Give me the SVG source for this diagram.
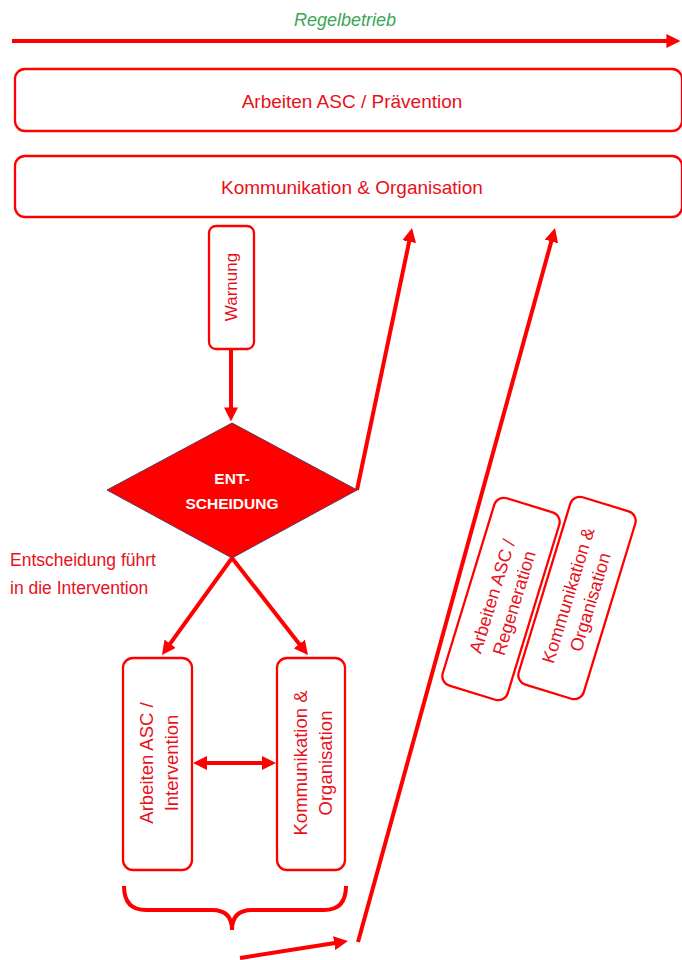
<svg xmlns="http://www.w3.org/2000/svg" width="682" height="960" viewBox="0 0 682 960">
<defs>
<style>
.box{fill:#fff;stroke:#ff0000;stroke-width:2.3}
.ln{fill:none;stroke:#ff0000;stroke-width:4}
.t{font-family:"Liberation Sans",Arial,sans-serif;fill:#e8101a;text-anchor:middle}
</style>
<marker id="ah" viewBox="0 0 10 10" refX="4" refY="5" markerWidth="14" markerHeight="14" markerUnits="userSpaceOnUse" orient="auto-start-reverse">
<path d="M0,0 L10,5 L0,10 z" fill="#ff0000"/>
</marker>
</defs>
<rect width="682" height="960" fill="#fff"/>
<text x="345" y="26" class="t" style="fill:#3aa655;font-style:italic;font-size:18px">Regelbetrieb</text>

<g id="connectors">
<line class="ln" x1="12" y1="41" x2="672" y2="41" marker-end="url(#ah)"/>
<line class="ln" x1="231" y1="349" x2="231" y2="413" marker-end="url(#ah)"/>
<line class="ln" x1="357" y1="490" x2="410.3" y2="236.2" marker-end="url(#ah)"/>
<line class="ln" x1="358" y1="942" x2="552.8" y2="236.1" marker-end="url(#ah)"/>
<line class="ln" x1="232" y1="558" x2="166.9" y2="648.2" marker-end="url(#ah)"/>
<line class="ln" x1="232" y1="558" x2="302.8" y2="648.4" marker-end="url(#ah)"/>
<line class="ln" x1="201.4" y1="763" x2="267.6" y2="763" marker-start="url(#ah)" marker-end="url(#ah)"/>
<line class="ln" x1="240" y1="958" x2="339.7" y2="942.3" marker-end="url(#ah)"/>
<path class="ln" d="M124,886 Q124,910 146,910 L212,910 Q232,910 232,930 Q232,910 252,910 L324,910 Q346,910 346,886"/>
</g>

<g id="n-praevention">
<rect class="box" x="15" y="69" width="667" height="62" rx="10"/>
<text x="352" y="108" class="t" style="font-size:19px">Arbeiten ASC / Prävention</text>
</g>
<g id="n-kommunikation">
<rect class="box" x="15" y="156" width="667" height="61" rx="10"/>
<text x="352" y="194" class="t" style="font-size:19px">Kommunikation &amp; Organisation</text>
</g>
<g id="n-warnung">
<rect class="box" x="209" y="226" width="45" height="123" rx="7"/>
<text transform="translate(237,287) rotate(-90)" class="t" style="font-size:17px">Warnung</text>
</g>
<g id="n-entscheidung">
<polygon points="232,423 357,490 232,558 107,490" fill="#ff0000" stroke="#5a3a5a" stroke-width="1"/>
<text x="232" y="484" class="t" style="fill:#fff;font-weight:bold;font-size:15.5px">ENT-</text>
<text x="232" y="509" class="t" style="fill:#fff;font-weight:bold;font-size:15.5px">SCHEIDUNG</text>
</g>
<g id="label-entscheidung">
<text x="10" y="566" class="t" style="text-anchor:start;font-size:17.5px">Entscheidung führt</text>
<text x="10" y="594" class="t" style="text-anchor:start;font-size:17.5px">in die Intervention</text>
</g>
<g id="n-intervention">
<rect class="box" x="123" y="658" width="69" height="212" rx="10"/>
<text transform="translate(157,763) rotate(-90)" class="t" style="font-size:18.5px"><tspan x="0" y="-4">Arbeiten ASC /</tspan><tspan x="0" y="21">Intervention</tspan></text>
</g>
<g id="n-kommunikation2">
<rect class="box" x="277" y="658" width="68" height="212" rx="10"/>
<text transform="translate(311,763) rotate(-90)" class="t" style="font-size:18.5px"><tspan x="0" y="-4">Kommunikation &amp;</tspan><tspan x="0" y="21">Organisation</tspan></text>
</g>
<g id="n-regeneration" transform="translate(501,599) rotate(-73)">
<rect class="box" x="-98" y="-34" width="196" height="68" rx="10"/>
<text class="t" style="font-size:18px"><tspan x="0" y="-3">Arbeiten ASC /</tspan><tspan x="0" y="20">Regeneration</tspan></text>
</g>
<g id="n-kommunikation3" transform="translate(577,598) rotate(-73)">
<rect class="box" x="-98" y="-34" width="196" height="68" rx="10"/>
<text class="t" style="font-size:18px"><tspan x="0" y="-3">Kommunikation &amp;</tspan><tspan x="0" y="20">Organisation</tspan></text>
</g>
</svg>
